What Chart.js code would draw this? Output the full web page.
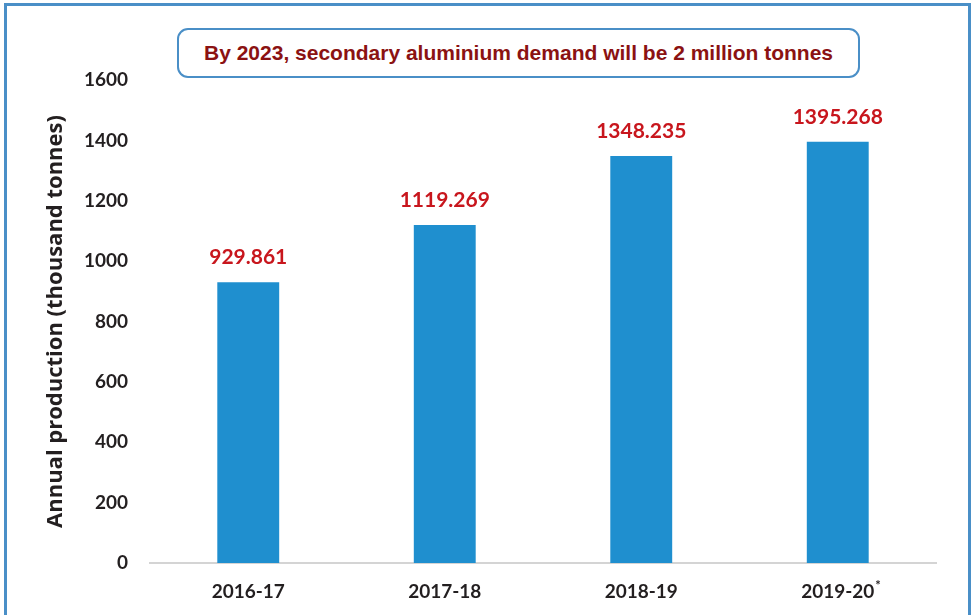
<!DOCTYPE html>
<html>
<head>
<meta charset="utf-8">
<script src="https://cdn.jsdelivr.net/npm/chart.js@4.4.1/dist/chart.umd.min.js"></script>
<style>
  html, body { margin: 0; padding: 0; background: #fff; }
  #wrap { position: relative; width: 975px; height: 615px; overflow: hidden; }
  #frame {
    position: absolute; left: 4px; top: 3px; width: 961px; height: 640px;
    border: 3px solid #4a8fc7; box-sizing: content-box;
  }
  #note {
    position: absolute; left: 177px; top: 28px; width: 679px; height: 46px;
    border: 2px solid #4a8fc7; border-radius: 11px; background: #fff;
    font: bold 21px "Liberation Sans", Arial, sans-serif; color: #8b1212;
    display: flex; align-items: center; justify-content: center;
  }
  canvas { position: absolute; left: 0; top: 0; }
</style>
</head>
<body>
<div id="wrap">
  <div id="frame"></div>
  <canvas id="chart" width="975" height="615"></canvas>
  <div id="note">By 2023, secondary aluminium demand will be 2 million tonnes</div>
</div>
<script>
  const categories = ['2016-17', '2017-18', '2018-19', '2019-20'];
  const footnoteMarks = ['', '', '', '*'];
  const production = [929.861, 1119.269, 1348.235, 1395.268];
  const valueLabels = ['929.861', '1119.269', '1348.235', '1395.268'];
  const yTicks = [0, 200, 400, 600, 800, 1000, 1200, 1400, 1600];

  const tickFont = { family: 'Lato, "Open Sans", sans-serif', size: 19, weight: 'bold' };

  // values above the bars + superscript marks after category names
  const labelPlugin = {
    id: 'labels',
    afterDatasetsDraw(chart) {
      const ctx = chart.ctx;
      const meta = chart.getDatasetMeta(0);
      ctx.save();
      ctx.font = 'bold 21px Lato, "Open Sans", sans-serif';
      ctx.fillStyle = '#c8161d';
      ctx.textAlign = 'center';
      ctx.textBaseline = 'middle';
      meta.data.forEach((bar, i) => {
        ctx.fillText(valueLabels[i], bar.x, bar.y - 25);
      });
      ctx.restore();
    },
    afterDraw(chart) {
      const ctx = chart.ctx;
      const x = chart.scales.x;
      ctx.save();
      footnoteMarks.forEach((m, i) => {
        if (!m) return;
        ctx.font = 'bold 19px Lato, "Open Sans", sans-serif';
        const w = ctx.measureText(categories[i]).width;
        ctx.font = 'bold 13px Lato, "Open Sans", sans-serif';
        ctx.fillStyle = '#231f20';
        ctx.textAlign = 'left';
        ctx.textBaseline = 'middle';
        ctx.fillText(m, x.getPixelForValue(i) + w / 2 + 1, 586);
      });
      ctx.restore();
    },
  };

  new Chart(document.getElementById('chart').getContext('2d'), {
    type: 'bar',
    data: {
      labels: categories,
      datasets: [{
        data: production,
        backgroundColor: '#1f8fcf',
        barPercentage: 0.315,
        categoryPercentage: 1,
      }],
    },
    options: {
      responsive: false,
      animation: false,
      layout: { padding: { left: 40, right: 39, top: 80, bottom: 10 } },
      plugins: { legend: { display: false }, tooltip: { enabled: false } },
      scales: {
        x: {
          grid: { display: false, drawTicks: false },
          border: { color: '#d4d4d4', width: 2 },
          ticks: { color: '#231f20', font: tickFont, padding: 17 },
          afterFit: (s) => { s.height = 42; },
        },
        y: {
          min: 0,
          max: 1600,
          afterBuildTicks: (s) => { s.ticks = yTicks.map(v => ({ value: v })); },
          grid: { display: false, drawTicks: false },
          border: { display: false },
          ticks: { color: '#231f20', font: tickFont, padding: 22, callback: (v) => String(v) },
          title: {
            display: true,
            text: 'Annual production (thousand tonnes)',
            color: '#231f20',
            font: { family: '"Open Sans", sans-serif', size: 22, weight: 'bold' },
            padding: { top: 3, bottom: 0 },
          },
          afterFit: (s) => { s.width = 110; },
        },
      },
    },
    plugins: [labelPlugin],
  });
</script>
</body>
</html>
